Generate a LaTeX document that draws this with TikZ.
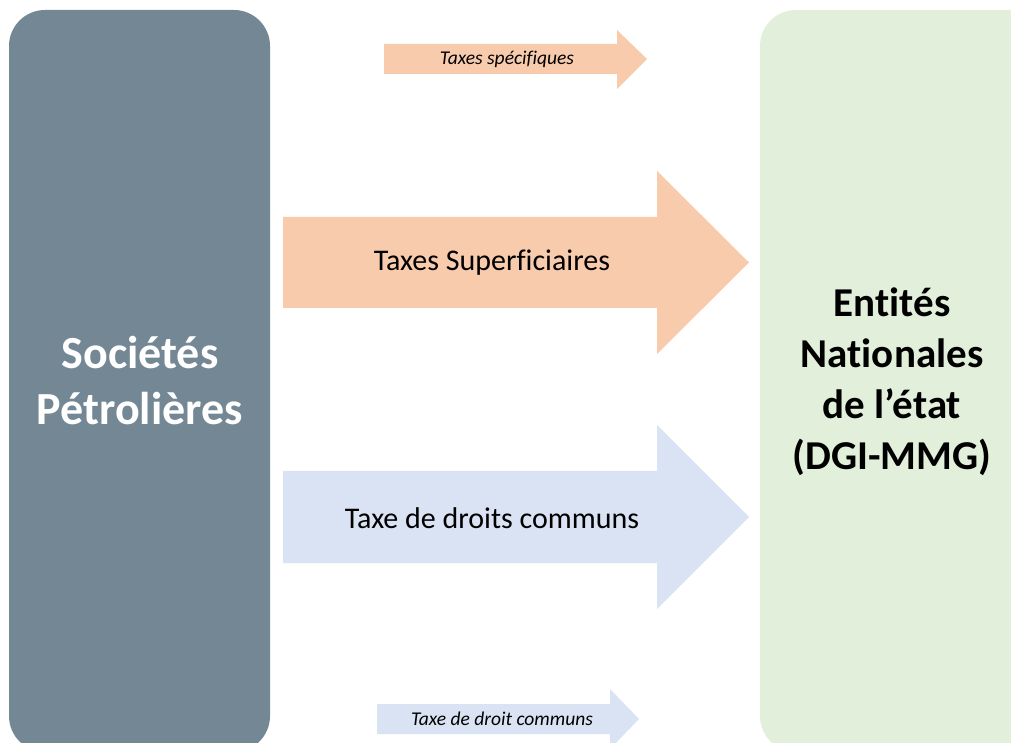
\documentclass[tikz,border=0pt]{standalone}
\usepackage{fontspec}
\setmainfont{Carlito}[Ligatures=NoCommon]
\definecolor{slate}{HTML}{738894}
\definecolor{mint}{HTML}{E2EFDA}
\definecolor{peach}{HTML}{F8CBAD}
\definecolor{paleblue}{HTML}{DAE3F3}
\begin{document}
\begin{tikzpicture}[x=1pt,y=1pt,
  bigbox/.style={rounded corners=36pt},
  lbl/.style={inner sep=0pt, text=black},
  title/.style={inner sep=0pt, align=center}]
\useasboundingbox (0,0) rectangle (1011,742);
\clip (0,0) rectangle (1011,742);
% boxes
\fill[slate, bigbox] (9,-10) rectangle (270,732);
\fill[mint, bigbox] (760,-10) rectangle (1050,732);
% arrows (y = 742 - py)
\fill[peach] (384,698) -- (617,698) -- (617,712) -- (647,683) -- (617,653) -- (617,668) -- (384,668) -- cycle;
\fill[peach] (283,525) -- (657,525) -- (657,571) -- (749,479.5) -- (657,388) -- (657,434) -- (283,434) -- cycle;
\fill[paleblue] (283,271) -- (657,271) -- (657,317) -- (749,225) -- (657,133) -- (657,179) -- (283,179) -- cycle;
\fill[paleblue] (377,38) -- (610,38) -- (610,53) -- (639,23) -- (610,-7) -- (610,8) -- (377,8) -- cycle;
% labels
\node[lbl, font=\fontsize{19.5}{23}\selectfont\itshape] (t1) at (507,683) {Taxes spécifiques};
\node[lbl, font=\fontsize{30}{36}\selectfont] (t2) at (492,479) {Taxes Superficiaires};
\node[lbl, font=\fontsize{30}{36}\selectfont] (t3) at (492,224) {Taxe de droits communs};
\node[lbl, font=\fontsize{19.5}{23}\selectfont\itshape] (t4) at (502,23) {Taxe de droit communs};
\node[title, text=white, font=\fontsize{46}{56}\selectfont\bfseries] (soc) at (140,361) {Sociétés\\Pétrolières};
\node[title, text=black, font=\fontsize{41}{51}\selectfont\bfseries] (ent) at (892,360) {Entités\\Nationales\\de l’état\\(DGI-MMG)};
\end{tikzpicture}
\end{document}
